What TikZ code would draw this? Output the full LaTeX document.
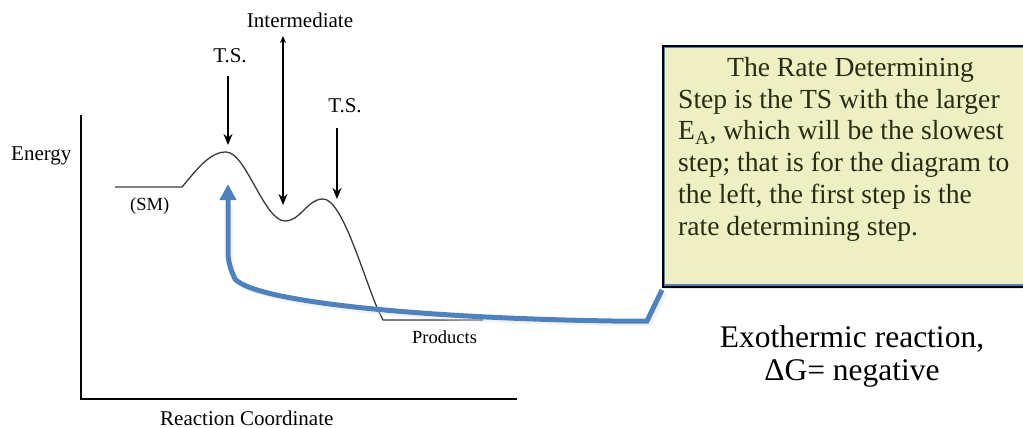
\documentclass[tikz,border=0pt]{standalone}
\usepackage{fontspec}
\setmainfont{Liberation Serif}
\usetikzlibrary{arrows.meta}
\definecolor{boxfill}{HTML}{EFEFC4}
\definecolor{boxblue}{HTML}{4F81BD}
\definecolor{boxtext}{HTML}{2B2B12}
\definecolor{curvegray}{HTML}{3A3A3A}
\begin{document}
\begin{tikzpicture}[x=1pt,y=-1pt,
  lbl/.style={font=\fontsize{21}{25}\selectfont, inner sep=0pt},
  small/.style={font=\fontsize{18.5}{22}\selectfont, inner sep=0pt},
  axis/.style={line width=1.3pt, black},
  curve/.style={line width=1.3pt, curvegray},
  tsarrow/.style={line width=2pt, -{Stealth[length=11pt,width=9pt]}},
  bluearrow/.style={line width=5pt, boxblue, -{Triangle[length=16pt,width=16pt]}},
  note/.style={font=\fontsize{27.6}{31.7}\selectfont, text=boxtext, inner sep=0pt, align=left},
  big/.style={font=\fontsize{31.5}{33}\selectfont, inner sep=0pt, align=center}
]
\useasboundingbox (0,0) rectangle (1023,428);

% axes
\coordinate (ytop) at (81,115);
\coordinate (origin) at (81,399);
\coordinate (xend) at (517,399);
\draw[axis] (ytop) -- (origin) -- (xend);

% energy profile
\coordinate (smstart) at (115,187);
\coordinate (smend) at (182,187);
\coordinate (ts1) at (226,152);
\coordinate (int) at (285,221);
\coordinate (ts2) at (323,199);
\coordinate (pstart) at (383,320);
\coordinate (pend) at (483,320);
\draw[curve] (smstart) -- (smend) .. controls (198,168) and (210,152) .. (ts1)
  .. controls (246,152) and (264,221) .. (int)
  .. controls (301,221) and (307,199) .. (ts2)
  .. controls (342,199) and (362,272) .. (378,310) -- (pstart) -- (pend);

% labels
\node[lbl, anchor=base west] (energy) at (11,160) {Energy};
\node[small, anchor=base west] (sm) at (130,210) {(SM)};
\node[small, anchor=base west] (prod) at (412,343) {Products};
\node[lbl, anchor=base west] (rc) at (160,425) {Reaction Coordinate};
\node[lbl, anchor=base] (tslbl1) at (230,63) {T.S.};
\node[lbl, anchor=base] (tslbl2) at (345,113) {T.S.};
\node[lbl, anchor=base] (intlbl) at (300,28) {Intermediate};

% arrows
\coordinate (a1top) at (228,76);
\coordinate (a1tip) at (228,145);
\draw[tsarrow] (a1top) -- (a1tip);
\coordinate (a2top) at (337,128);
\coordinate (a2tip) at (337,199);
\draw[tsarrow] (a2top) -- (a2tip);
\coordinate (a3top) at (283,36);
\coordinate (a3tip) at (283,205);
\draw[line width=2pt, {Stealth[length=7pt,width=6pt]}-{Stealth[length=11pt,width=9pt]}] (a3top) -- (a3tip);

% note box
\fill[gray!40, opacity=0.5] (665,48) rectangle (1030,289);
\node[draw=black, line width=2.5pt, fill=boxfill, minimum width=370pt, minimum height=240pt, anchor=north west, inner sep=0pt] (box) at (662,45) {};
\draw[boxblue, line width=1.3pt] ([shift={(2.5,2.5)}]box.north west) rectangle ([shift={(-2.5,-2.5)}]box.south east);
\node[note, anchor=base west] (notetext) at (678,235) {\hspace*{49pt}The Rate Determining\\Step is the TS with the larger\\E\textsubscript{A}, which will be the slowest\\step; that is for the diagram to\\the left, the first step is the\\rate determining step.};

% blue arrow
\coordinate (bstart) at (662,290);
\coordinate (bcorner) at (647,321);
\coordinate (btip) at (228,184);
\draw[line width=4pt, gray!30, opacity=0.35] (665,293) -- (650,324) -- (612,324) .. controls (420,321) and (262,306) .. (238,282) [rounded corners=10pt] -- (231,266) -- (231,205);
\draw[bluearrow] (bstart) -- (bcorner) -- (612,321) .. controls (420,318) and (256,302) .. (235,279) [rounded corners=10pt] -- (228,263) -- (btip);

% exothermic text
\node[big, anchor=base] (exo) at (852,347) {Exothermic reaction,};
\node[big, anchor=base] (dg) at (852,380) {ΔG= negative};
\end{tikzpicture}
\end{document}
